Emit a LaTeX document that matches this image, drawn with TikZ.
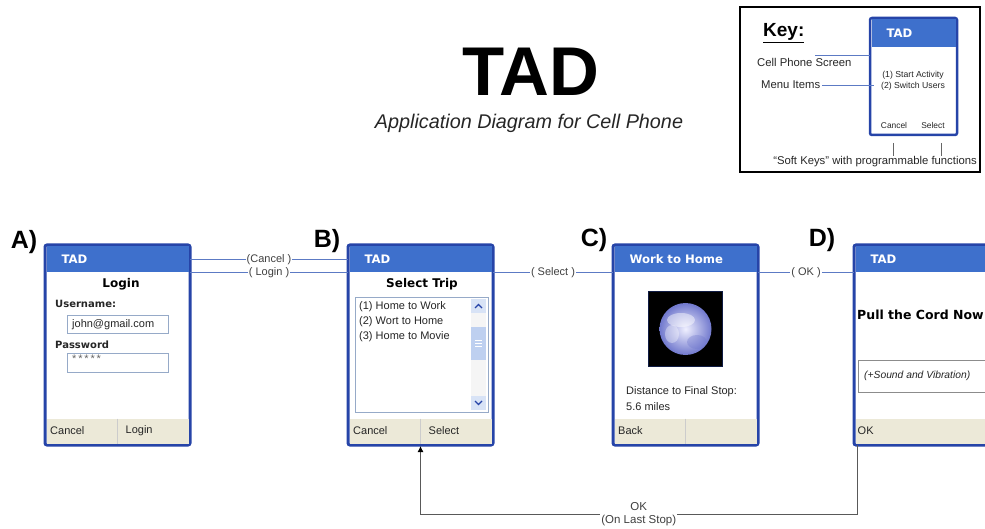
\documentclass[tikz,border=0pt]{standalone}
\usepackage{fontspec}
\setmainfont{Liberation Sans}
\newfontfamily\vfont{DejaVu Sans}
\usetikzlibrary{positioning,arrows.meta}

\definecolor{frameblue}{RGB}{38,68,168}
\definecolor{headblue}{RGB}{62,112,204}
\definecolor{keybar}{RGB}{236,233,216}
\definecolor{linkblue}{RGB}{92,122,196}
\definecolor{fieldline}{RGB}{150,170,200}
\definecolor{scroll}{RGB}{190,208,240}
\definecolor{globe}{RGB}{112,120,205}

\begin{document}
\begin{tikzpicture}[x=1pt,y=-1pt,
   phone/.style={draw=frameblue,line width=3pt,fill=white,rounded corners=2pt,
      outer sep=0pt,inner sep=0pt,minimum width=145pt,minimum height=200pt},
   head/.style={fill=headblue,text=white,font=\vfont\bfseries\fontsize{11.7}{13}\selectfont,
      minimum height=26pt,inner xsep=15pt,inner ysep=0pt,text width=112pt,align=left,outer sep=0pt},
   softbar/.style={fill=keybar,minimum width=142pt,minimum height=25pt,inner sep=0pt,outer sep=0pt},
   softkey/.style={anchor=west,font=\fontsize{11}{12}\selectfont,inner sep=0pt,text=black!85},
   title/.style={font=\vfont\bfseries\fontsize{12}{14}\selectfont,inner sep=0pt},
   body/.style={anchor=west,font=\fontsize{11}{15}\selectfont,inner sep=0pt,text=black!85},
   field/.style={draw=fieldline,fill=white,anchor=north west,inner sep=0pt},
   sep/.style={draw=black!20,line width=0.6pt},
   link/.style={draw=linkblue,line width=0.8pt},
   lbl/.style={fill=white,inner xsep=1pt,inner ysep=1pt,font=\fontsize{11}{12}\selectfont,text=black!75},
   tag/.style={font=\bfseries\fontsize{25}{25}\selectfont,inner sep=0pt},
   keytxt/.style={anchor=west,font=\fontsize{11.3}{12}\selectfont,inner sep=0pt,text=black!85}]
\useasboundingbox (0,0) rectangle (985,529);

% heading
\node[font=\bfseries\fontsize{69}{69}\selectfont,inner sep=0pt] (ttl) at (531,71.5) {TAD};
\node[font=\itshape\fontsize{19.8}{20}\selectfont,inner sep=0pt,anchor=base,text=black!85] (sub) at (529,128.5)
   {Application Diagram for Cell Phone};

% key
\node[draw=black,line width=2.5pt,minimum width=240pt,minimum height=165pt,inner sep=0pt,outer sep=0pt] (keybox) at (860,89.5) {};
\node[font=\bfseries\fontsize{19}{19}\selectfont,inner sep=0pt,anchor=base west] (keyttl) at (763,37) {\underline{Key:}};
\node[phone,line width=2.5pt,minimum width=87pt,minimum height=117pt] (mini) at (913.5,76.5) {};
\node[head,below=1.25pt of mini.north,inner xsep=15pt,text width=54pt,minimum height=28pt] (minihead) {TAD};
\node[align=center,inner sep=0pt,font=\fontsize{8.7}{10.5}\selectfont,text=black!85] (miniitems) at (913,81) {(1) Start Activity\\(2) Switch Users};
\node[inner sep=0pt,font=\fontsize{8.4}{9}\selectfont,text=black!85] (kcancel) at (894,126) {Cancel};
\node[inner sep=0pt,font=\fontsize{8.4}{9}\selectfont,text=black!85] (kselect) at (933,126) {Select};
\node[keytxt] (kscreen) at (757,62) {Cell Phone Screen};
\node[keytxt] (kmenu) at (761,85) {Menu Items};
\coordinate (scrtip) at (815,55);
\draw[link,line width=0.6pt] (scrtip) -- (scrtip -| mini.west);
\draw[link,line width=0.6pt] ([xshift=2pt]kmenu.east) -- ([xshift=4pt]kmenu.east -| mini.west);
\draw[black!60,line width=0.6pt] (893,143) -- (893,156);
\draw[black!60,line width=0.6pt] (941,143) -- (941,156);
\node[inner sep=0pt,font=\fontsize{11.3}{12}\selectfont,text=black!85] (ksoft) at (875,162)
   {``Soft Keys'' with programmable functions};

% A) login
\node[tag] (tagA) at (24,242) {A)};
\node[phone] (A) at (117.5,345) {};
\node[head,below=1.5pt of A.north] (Ahead) {TAD};
\node[softbar,above=1.5pt of A.south] (Abar) {};
\draw[sep] (Abar.north) -- (Abar.south);
\node[softkey] (Acancel) at ([xshift=3.5pt]Abar.west) {Cancel};
\node[softkey] (Alogin) at ([xshift=8pt]Abar.center) {Login};
\node[title] (Atitle) at (121,284) {Login};
\node[body,font=\vfont\bfseries\fontsize{10}{12}\selectfont] (Auser) at (55,304) {Username:};
\node[field,minimum width=101pt,minimum height=18pt] (Aufield) at (67,315) {};
\node[body] (Auval) at ([xshift=5pt]Aufield.west) {john@gmail.com};
\node[body,font=\vfont\bfseries\fontsize{10}{12}\selectfont] (Apass) at (55,345) {Password};
\node[field,minimum width=101pt,minimum height=19pt] (Apfield) at (67,353) {};
\node[body,anchor=north west,font=\fontsize{11}{11}\selectfont,text=black!60] (Apval) at ([shift={(5pt,-2pt)}]Apfield.north west) {*\,*\,*\,*\,*};

% B) trip list
\node[tag] (tagB) at (327,241) {B)};
\node[phone] (B) at (420.5,345) {};
\node[head,below=1.5pt of B.north] (Bhead) {TAD};
\node[softbar,above=1.5pt of B.south] (Bbar) {};
\draw[sep] (Bbar.north) -- (Bbar.south);
\node[softkey] (Bcancel) at ([xshift=3.5pt]Bbar.west) {Cancel};
\node[softkey] (Bselect) at ([xshift=8pt]Bbar.center) {Select};
\node[title] (Btitle) at (422,284) {Select Trip};
\node[field,minimum width=133pt,minimum height=115pt] (Blist) at (355,297) {};
\node[body,anchor=north west,align=left] (Bitems) at (359,301)
   {(1) Home to Work\\(2) Wort to Home\\(3) Home to Movie};
% scroll bar
\fill[black!4] (471,299) rectangle (486,410);
\fill[scroll!60] (471,299) rectangle (486,313);
\fill[scroll] (471,327) rectangle (486,360);
\fill[scroll!60] (471,396) rectangle (486,410);
\draw[frameblue,line width=1.2pt] (475,308) -- (478.5,304.5) -- (482,308);
\draw[frameblue,line width=1.2pt] (475,401) -- (478.5,404.5) -- (482,401);
\foreach \y in {340,343,346}
   \draw[white,line width=0.6pt] (475,\y) -- (482,\y);

% C) trip view
\node[tag] (tagC) at (594,240) {C)};
\node[phone] (C) at (685.5,345) {};
\node[head,below=1.5pt of C.north] (Chead) {Work to Home};
\node[softbar,above=1.5pt of C.south] (Cbar) {};
\draw[sep] (Cbar.north) -- (Cbar.south);
\node[softkey] (Cback) at ([xshift=3.5pt]Cbar.west) {Back};
\node[fill=black,draw=frameblue!40!black,line width=1pt,minimum size=74pt,inner sep=0pt] (Cimg) at (685.5,329) {};
\shade[inner color=blue!6!white,outer color=globe] (Cimg.center) circle (26pt);
\fill[white,opacity=0.45] (681,320) ellipse (14pt and 7pt);
\fill[white,opacity=0.35] (672,334) ellipse (7pt and 9pt);
\fill[globe,opacity=0.35] (697,342) ellipse (10pt and 7pt);
\node[body] (Cdist) at (626,392) {Distance to Final Stop:};
\node[body] (Cmiles) at (626,407) {5.6 miles};

% D) alert
\node[tag] (tagD) at (822,240) {D)};
\node[phone] (D) at (926.5,345) {};
\node[head,below=1.5pt of D.north] (Dhead) {TAD};
\node[softbar,above=1.5pt of D.south] (Dbar) {};
\node[softkey] (Dok) at ([xshift=2pt]Dbar.west) {OK};
\node[title,anchor=west,font=\vfont\bfseries\fontsize{12.5}{14}\selectfont] (Dtitle) at (857,315) {Pull the Cord Now};
\node[field,draw=black!45,minimum width=140pt,minimum height=32pt] (Dbox) at (858,360) {};
\node[body,font=\itshape\fontsize{10.3}{12}\selectfont] (Dnote) at ([xshift=6pt]Dbox.west) {(+Sound and Vibration)};

% transitions
\draw[link] (A.east |- Ahead.center) -- node[lbl] {(Cancel )} (B.west |- Ahead.center);
\draw[link] (A.east |- Ahead.south) -- node[lbl] {( Login )} (B.west |- Ahead.south);
\draw[link] (B.east |- Bhead.south) -- node[lbl] {( Select )} (C.west |- Bhead.south);
\draw[link] (C.east |- Chead.south) -- node[lbl] {( OK )} (D.west |- Chead.south);
\coordinate (dout) at ([xshift=3pt]D.south west);
\draw[black!65,line width=0.9pt,-{Latex[length=6pt,width=6pt,color=black]}] (dout) -- ++(0,69) coordinate (dlow)
   -- node[lbl,align=center,font=\fontsize{11.5}{13}\selectfont] (lastok) {OK\\(On Last Stop)} (dlow -| B.south) -- ([yshift=-1pt]B.south);
\end{tikzpicture}
\end{document}
